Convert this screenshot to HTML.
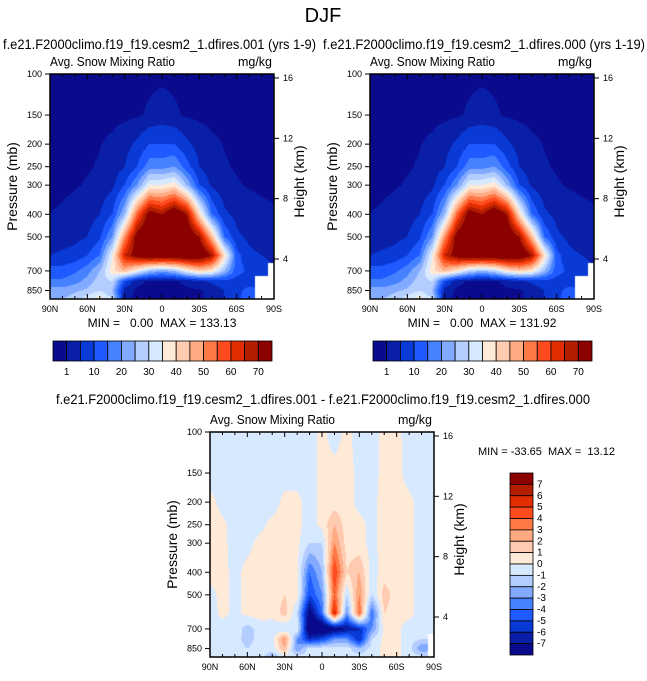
<!DOCTYPE html>
<html><head><meta charset="utf-8"><style>
body{margin:0;background:#fff;width:647px;height:681px;overflow:hidden;position:relative;font-family:"Liberation Sans",sans-serif}
canvas{position:absolute}
svg{position:absolute;left:0;top:0}
text{font-family:"Liberation Sans",sans-serif;fill:#000;white-space:pre}
</style></head><body>
<canvas id="c1" width="224" height="225" style="left:50px;top:74px"></canvas>
<canvas id="c2" width="224" height="225" style="left:370px;top:74px"></canvas>
<canvas id="c3" width="224" height="225" style="left:210px;top:432px"></canvas>
<svg id="s" width="647" height="681"></svg>
<script>
// ---- data ----
const lats = [90,80,70,60,50,40,30,20,10,0,-10,-20,-30,-40,-50,-60,-70,-80,-90];
const levels = [100,150,200,250,300,400,500,600,700,775,850,925];
const N = NaN;
const snow001 = [
[0.3,0.3,0.3,0.3,0.3,0.3,0.3,0.3,0.3,0.3,0.3,0.3,0.3,0.3,0.3,0.3,0.3,0.3,0.3],
[0.3,0.3,0.3,0.3,0.3,0.3,0.3,0.5,1.5,2.5,1.5,0.5,0.3,0.3,0.3,0.3,0.3,0.3,0.3],
[0.3,0.3,0.4,0.6,0.9,1.5,3,6,10,10,10,6,3,1.5,0.9,0.6,0.4,0.3,0.3],
[0.3,0.4,0.5,0.8,1.2,2.5,5,10,18,18,20,12,5,2.5,1.2,0.8,0.5,0.4,0.3],
[0.5,0.6,0.8,1.2,2,4,10,20,35,35,38,25,10,4,2,1.2,0.8,0.6,0.5],
[1,1.3,1.8,2.8,5,10,25,55,75,70,80,70,40,15,6,3.5,2.2,1.6,1.3],
[2,2.5,3.5,5,9,20,50,75,80,75,85,80,70,45,15,6,4,3,2.5],
[5,6,7,10,15,35,65,75,80,80,80,80,80,70,40,12,6,5,4],
[12,12,14,18,25,38,45,35,25,22,25,35,42,38,25,12,9,7,N],
[16,16,18,22,28,30,10,2,0.5,0.3,0.5,2,4,6,8,8,7,N,N],
[22,22,24,26,30,25,3,0.3,0.3,0.3,0.3,0.3,0.5,2,5,8,12,N,N],
[24,25,28,33,38,30,2,0.3,0.3,0.3,0.3,0.3,0.5,2,5,8,15,N,N]];
const snow000 = [
[0.3,0.3,0.3,0.3,0.3,0.3,0.3,0.3,0.3,0.3,0.3,0.3,0.3,0.3,0.3,0.3,0.3,0.3,0.3],
[0.3,0.3,0.3,0.3,0.3,0.3,0.3,0.5,1.5,2.5,1.5,0.5,0.3,0.3,0.3,0.3,0.3,0.3,0.3],
[0.3,0.3,0.4,0.6,0.9,1.5,3,6,10,10,10,6,3,1.5,0.9,0.6,0.4,0.3,0.3],
[0.3,0.4,0.5,0.8,1.2,2.5,5,10,18,18,20,12,5,2.5,1.2,0.8,0.5,0.4,0.3],
[0.5,0.6,0.8,1.2,2,4,10,20,35,35,38,25,10,4,2,1.2,0.8,0.6,0.5],
[1,1.3,1.8,2.8,5,10,25,55,76,70,80,70,40,15,6,3.5,2.2,1.6,1.3],
[2,2.5,3.5,5,9,20,50,75,80,75,85,80,70,45,15,6,4,3,2.5],
[5,6,7,10,15,35,65,75,80,80,80,80,80,70,40,12,6,5,4],
[12,12,14,18,25,38,45,38,28,25,28,38,42,38,25,12,9,7,N],
[16,16,18,22,28,30,10,2,0.5,0.3,0.5,2,4,6,8,8,7,N,N],
[22,22,24,26,30,25,3,0.3,0.3,0.3,0.3,0.3,0.5,2,5,8,12,N,N],
[24,25,28,33,38,30,2,0.3,0.3,0.3,0.3,0.3,0.5,2,5,8,15,N,N]];
const diff = [
[-0.5,-0.5,-0.5,-0.5,-0.5,-0.5,-0.5,-0.5,-0.5,0.3,-0.5,0.3,-0.5,-0.5,0.3,0.3,-0.5,-0.5,-0.5],
[-0.5,-0.5,-0.5,-0.5,-0.5,-0.5,-0.5,-0.5,-0.5,0.3,0.4,0.4,-0.3,-0.5,0.4,0.4,-0.5,-0.5,-0.5],
[0.3,-0.3,-0.5,-0.5,-0.5,-0.5,0.3,0.3,-0.5,0.3,0.4,0.4,-0.3,-0.3,0.4,0.4,0.3,-0.5,-0.5],
[0.3,0.2,-0.3,-0.5,-0.3,0.3,0.4,0.3,-0.5,0.3,2,0.4,0.3,-0.3,0.4,0.4,0.3,-0.5,-0.5],
[0.3,0.2,-0.3,-0.3,0.3,0.4,0.4,0.3,-1,-1,3,0.5,0.3,-0.3,0.4,0.4,0.3,-0.5,-0.5],
[0.3,0.3,-0.3,0.3,0.4,0.4,0.3,0.2,-4,-2,5,1,2,-0.5,0.5,0.4,0.3,-0.5,-0.5],
[-0.3,0.3,-0.3,0.3,0.4,0.4,1,0.5,-5,-3,4,-1,3,-1,1.5,0.5,0.3,-0.5,-0.5],
[-0.5,0.3,-0.3,0.3,0.4,0.3,1.5,-1,-8,-4,6,-3,4,-4,1,0.4,0.3,-0.5,-0.5],
[-0.5,-0.5,-0.3,-1.5,-0.5,-0.5,-1,0,-9,-9,-8,-7,-6,-3,0.3,0.3,-0.5,-0.5,-0.5],
[-0.5,-0.5,-0.5,-1.5,-0.5,-0.5,3,-3,-6,-5,-3,-3,-6,-1,0.3,0.3,-0.5,-1,N],
[-0.5,-0.5,-0.5,-1,-0.5,-0.5,2,-3,-0.5,-0.5,-0.5,-0.5,-2,-0.5,0.3,0.3,-0.5,-3,N],
[-0.5,-0.5,-0.5,-0.5,-0.5,-2,-0.5,-0.5,-0.5,-0.5,-0.5,-0.5,-0.5,-0.5,0.3,0.3,-0.5,-0.5,N]];
const snowLevels = [1,5,10,15,20,25,30,35,40,45,50,55,60,65,70];
const snowTickLabels = ["1","10","20","30","40","50","60","70"];
const diffLevels = [-7,-6,-5,-4,-3,-2,-1,0,1,2,3,4,5,6,7];
const pTicks = [100,150,200,250,300,400,500,700,850];
const hTicks = [16,12,8,4];
const latTicks = [90,60,30,0,-30,-60,-90];
const latLabels = ["90N","60N","30N","0","30S","60S","90S"];
const colors = ["#0a0a8c","#0a1fa8","#0a3ad6","#1e5aff","#4682ff","#82aaff","#b4cdff","#d7e9ff","#ffe9d7","#ffcbb0","#ffaa82","#ff7846","#ff4b1e","#e12d00","#b41e00","#8c0000"];

// ---- scales ----
const W=224,H=225,PPD=233,PTOP=100;
const yP = p => Math.log10(p/PTOP)*PPD;
const xL = lat => (90-lat)/180*W;
const pAt = y => PTOP*Math.pow(10,y/PPD);
const yH = h => 4 + (16-h)/12*(259-78);
function sample(grid,lat,p){
  let lp=Math.log(p);
  let i=0; while(i<levels.length-2 && p>levels[i+1]) i++;
  let t=(lp-Math.log(levels[i]))/(Math.log(levels[i+1])-Math.log(levels[i]));
  t=Math.max(0,Math.min(1,t));
  let fj=(90-lat)/10; let j=Math.min(17,Math.floor(fj)); let u=fj-j;
  const ni=t<0.5?i:i+1, nj=u<0.5?j:j+1;
  if(isNaN(grid[ni][nj])) return NaN;
  let c=[grid[i][j],grid[i][j+1],grid[i+1][j],grid[i+1][j+1]];
  const ok=c.filter(v=>!isNaN(v)); const avg=ok.reduce((a,b)=>a+b,0)/ok.length;
  c=c.map(v=>isNaN(v)?avg:v);
  return (c[0]*(1-u)+c[1]*u)*(1-t)+(c[2]*(1-u)+c[3]*u)*t;
}
function bin(v,lv){let k=0;while(k<lv.length&&v>=lv[k])k++;return k;}
function draw(id,grid,lv){
  const ctx=document.getElementById(id).getContext('2d');
  for(let y=0;y<H;y++){const p=pAt(y+0.5);
    for(let x=0;x<W;x++){const lat=90-(x+0.5)/W*180;
      const v=sample(grid,lat,p);
      ctx.fillStyle=isNaN(v)?"#fff":colors[bin(v,lv)];
      ctx.fillRect(x,y,1,1);}}
}
draw('c1',snow001,snowLevels);draw('c2',snow000,snowLevels);draw('c3',diff,diffLevels);

// ---- svg overlay ----
const S=document.getElementById('s');const NS="http://www.w3.org/2000/svg";
function el(tag,at,txt){const e=document.createElementNS(NS,tag);for(const k in at)e.setAttribute(k,at[k]);if(txt!==undefined)e.textContent=txt;S.appendChild(e);return e;}
function txt(x,y,s,size,anchor,name,extra){const e=el('text',Object.assign({x:x,y:y,'font-size':size,'text-anchor':anchor||'start'},extra||{}),s);

return e;}
txt(323,22,"DJF",20,"middle","main-title");
txt(3,49,"f.e21.F2000climo.f19_f19.cesm2_1.dfires.001 (yrs 1-9)",14,"start","left-subtitle",{textLength:313,lengthAdjust:"spacingAndGlyphs"});
txt(323,49,"f.e21.F2000climo.f19_f19.cesm2_1.dfires.000 (yrs 1-19)",14,"start","right-subtitle",{textLength:322,lengthAdjust:"spacingAndGlyphs"});
txt(56,404,"f.e21.F2000climo.f19_f19.cesm2_1.dfires.001 - f.e21.F2000climo.f19_f19.cesm2_1.dfires.000",14,"start","diff-subtitle",{textLength:534,lengthAdjust:"spacingAndGlyphs"});

function panel(X,Y,pre,minmax){
  el('rect',{x:X,y:Y,width:W,height:H,fill:'none',stroke:'#000','stroke-width':1.5});
  txt(X,Y-8,"Avg. Snow Mixing Ratio",12.5,"start",pre+"-left-string",{textLength:125,lengthAdjust:"spacingAndGlyphs"});
  txt(X+W-2,Y-8,"mg/kg",12.5,"end",pre+"-units");
  for(let l=90;l>=-90;l-=10){const x=X+xL(l);const big=l%30==0;const len=big?5:3;
    const t1=el('line',{x1:x,x2:x,y1:Y,y2:Y+len,stroke:'#000'});
    
    const t2=el('line',{x1:x,x2:x,y1:Y+H,y2:Y+H-len,stroke:'#000'});
    }
  latTicks.forEach((l,i)=>txt(X+xL(l),Y+H+13,latLabels[i],9,"middle",pre+"-x-tick-label"));
  pTicks.forEach(p=>{const y=Y+yP(p);
    const t=el('line',{x1:X-5,x2:X,y1:y,y2:y,stroke:'#000'});
    
    txt(X-8,y+3,String(p),9,"end",pre+"-y-tick-label");});
  hTicks.forEach(h=>{const y=Y+yH(h);
    const t=el('line',{x1:X+W,x2:X+W+5,y1:y,y2:y,stroke:'#000'});
    
    txt(X+W+9,y+3,String(h),9,"start",pre+"-height-tick-label");});
  txt(0,0,"Pressure (mb)",14,"middle",pre+"-y-axis-title",{transform:`translate(${X-33},${Y+H/2}) rotate(-90)`});
  txt(0,0,"Height (km)",14,"middle",pre+"-right-axis-title",{transform:`translate(${X+W+30},${Y+H/2-5}) rotate(-90)`});
  if(minmax) txt(X+W/2,Y+H+28,minmax,12,"middle",pre+"-min-max");
}
panel(50,74,"left","MIN =   0.00  MAX = 133.13");
panel(370,74,"right","MIN =   0.00  MAX = 131.92");
panel(210,432,"diff",null);
txt(478,455,"MIN = -33.65  MAX =  13.12",11,"start","diff-min-max");

function hbar(X,pre){const Y=341,w=219/16,h=20;
  colors.forEach((c,i)=>{const r=el('rect',{x:X+i*w,y:Y,width:w,height:h,fill:c,stroke:'#000','stroke-width':0.8});
    });
  snowTickLabels.forEach((s,i)=>txt(X+(2*i+1)*w,Y+h+14,s,10,"middle",pre+"-colorbar-label"));}
hbar(53,"left");hbar(373,"right");
(function(){const X=510,Y=473,w=23,h=182/16;
  colors.slice().reverse().forEach((c,i)=>{const r=el('rect',{x:X,y:Y+i*h,width:w,height:h,fill:c,stroke:'#000','stroke-width':0.8});
    });
  diffLevels.slice().reverse().forEach((v,i)=>txt(X+w+4,Y+(i+1)*h+3,String(v),10,"start","diff-colorbar-label"));})();
</script>
</body></html>
